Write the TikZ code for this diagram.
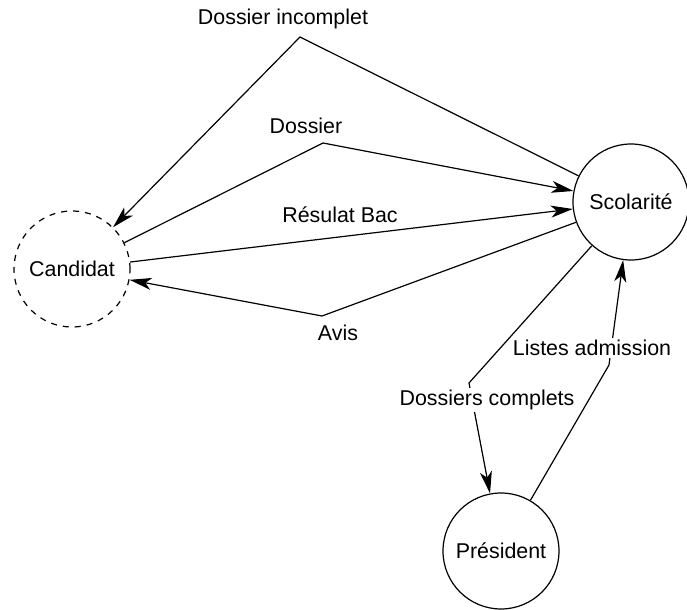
\documentclass[tikz,border=0pt]{standalone}
\usepackage{fontspec}
\setmainfont{Liberation Sans}
\usetikzlibrary{arrows.meta}

\begin{document}
\begin{tikzpicture}[x=0.5pt,y=-0.5pt,>={Stealth[length=11pt,width=6pt,inset=3pt]},semithick,main node/.style={circle,draw,minimum size=58pt,inner sep=0pt,font=\fontsize{10.7}{12}\selectfont},text node/.style={fill=white,inner sep=1pt,font=\fontsize{10.7}{12}\selectfont}]
                \useasboundingbox (0,0) rectangle (687,610);

                \node[main node,dashed] (cand) at (72,269) {Candidat};
                \node[main node] (scol) at (631,202) {Scolarité};
                \node[main node] (pres) at (501,551) {Président};

                % points where the connectors bend
                \coordinate (incomplet) at (300,37);
                \coordinate (dossier) at (323,143);
                \coordinate (avis) at (322,316);
                \coordinate (complets) at (469,383);
                \coordinate (listes) at (609,365);

                \draw[->] (scol) -- (incomplet) -- (cand);
                \draw[->] (cand) -- (dossier) -- (scol);
                \draw[->] (cand) -- (scol);
                \draw[->] (scol) -- (avis) -- (cand);
                \draw[->] (scol) -- (complets) -- (pres);
                \draw[->] (pres) -- (listes) -- (scol);

                \node[text node] (t1) at (283,19) {Dossier incomplet};
                \node[text node] (t2) at (306,126) {Dossier};
                \node[text node] (t3) at (340,215) {Résulat Bac};
                \node[text node] (t4) at (338,333) {Avis};
                \node[text node] (t5) at (487,400) {Dossiers complets};
                \node[text node] (t6) at (592,348) {Listes admission};
            \end{tikzpicture}
\end{document}
